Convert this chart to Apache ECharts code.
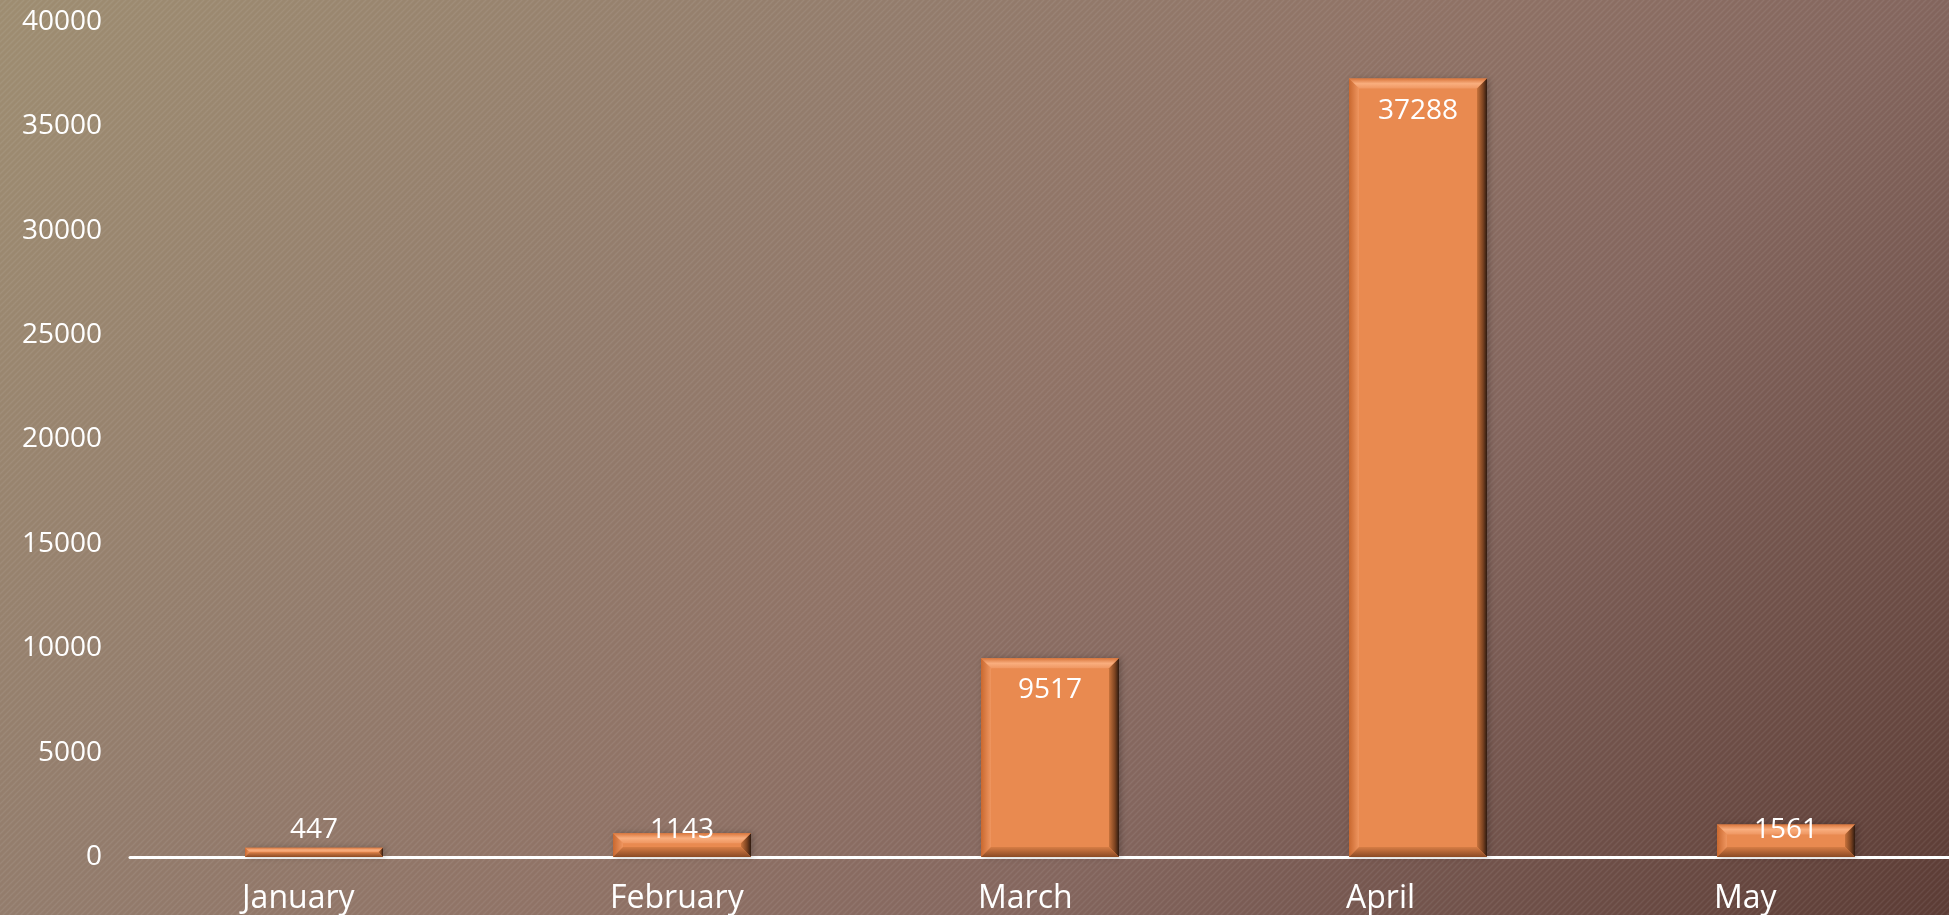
<!DOCTYPE html>
<html>
<head>
<meta charset="utf-8">
<script src="https://cdn.jsdelivr.net/npm/echarts@6/dist/echarts.min.js"></script>
<style>
  html, body { margin: 0; padding: 0; }
  #chart { width: 1949px; height: 915px; }
</style>
</head>
<body>
<div id="chart"></div>
<script>
// datos del grafico
const months = ['January', 'February', 'March', 'April', 'May'];
const values = [447, 1143, 9517, 37288, 1561];
const yTicks = [0, 5000, 10000, 15000, 20000, 25000, 30000, 35000, 40000];

const BAR_RATIO = 0.375;
const FONT = 'Open Sans';

// textura de rayas diagonales
function stripes() {
  const c = document.createElement('canvas');
  c.width = 6; c.height = 6;
  const ctx = c.getContext('2d');
  ctx.strokeStyle = 'rgba(255,255,255,0.07)';
  ctx.lineWidth = 1.5;
  ctx.beginPath();
  ctx.moveTo(0, 6); ctx.lineTo(6, 0);
  ctx.moveTo(-3, 3); ctx.lineTo(3, -3);
  ctx.moveTo(3, 9); ctx.lineTo(9, 3);
  ctx.stroke();
  return c;
}

const chart = echarts.init(document.getElementById('chart'));

// etiquetas: dentro arriba si la barra es alta, si no cerca de la base
const labelData = values.map(v => ({
  value: v,
  label: v >= 5000
    ? { position: 'insideTop', distance: 18 }
    : { position: 'insideBottom', distance: 13 }
}));

function bevel(params, api) {
  const top = api.coord([api.value(0), api.value(1)]);
  const base = api.coord([api.value(0), 0]);
  const w = api.size([1, 0])[0] * BAR_RATIO;
  const l = top[0] - w / 2, r = top[0] + w / 2, t = top[1], b = base[1];
  const d = Math.min(10, (b - t) / 2);
  return {
    type: 'group',
    children: [
      { type: 'polygon', shape: { points: [[l, t], [r, t], [r - d, t + d], [l + d, t + d]] },
        style: { fill: new echarts.graphic.LinearGradient(0, 0, 0, 1, [
          { offset: 0, color: '#d9763c' }, { offset: 0.5, color: '#f9ae7e' }, { offset: 1, color: '#ef9762' }]) } },
      { type: 'polygon', shape: { points: [[l, t], [l + d, t + d], [l + d, b - d], [l, b]] },
        style: { fill: new echarts.graphic.LinearGradient(0, 0, 1, 0, [
          { offset: 0, color: '#c9682f' }, { offset: 1, color: '#ef9660' }]) } },
      { type: 'polygon', shape: { points: [[r, t], [r, b], [r - d, b - d], [r - d, t + d]] },
        style: { fill: new echarts.graphic.LinearGradient(0, 0, 1, 0, [
          { offset: 0, color: '#c8733c' }, { offset: 0.6, color: '#7a4220' }, { offset: 1, color: '#2e1a10' }]) } },
      { type: 'polygon', shape: { points: [[l, b], [l + d, b - d], [r - d, b - d], [r, b]] },
        style: { fill: new echarts.graphic.LinearGradient(0, 0, 0, 1, [
          { offset: 0, color: '#d77d45' }, { offset: 1, color: '#8a4a24' }]) } }
    ]
  };
}

const option = {
  backgroundColor: new echarts.graphic.LinearGradient(0, 0, 1, 2.1, [
    { offset: 0, color: '#9e8d71' },
    { offset: 0.24, color: '#937c6c' },
    { offset: 0.37, color: '#907366' },
    { offset: 0.5, color: '#84665e' },
    { offset: 0.74, color: '#5c3c35' },
    { offset: 1, color: '#5c3c35' }
  ]),
  graphic: {
    elements: [{
      type: 'rect', z: -10, silent: true,
      shape: { x: 0, y: 0, width: 1949, height: 915 },
      style: { fill: { image: stripes(), repeat: 'repeat' } }
    }]
  },
  textStyle: { fontFamily: FONT },
  grid: { left: 130, width: 1840, top: 22, bottom: 58, outerBoundsMode: 'none' },
  xAxis: {
    type: 'category',
    data: months,
    axisLine: { lineStyle: { color: '#ffffff', width: 3 } },
    axisTick: { show: false },
    axisLabel: {
      color: '#ffffff', fontSize: 32, fontFamily: FONT, margin: 26,
      // texto alineado con el borde izquierdo de la barra
      formatter: v => '{m|' + v + '}',
      rich: { m: { width: 144, align: 'left', color: '#ffffff', fontSize: 32, fontFamily: FONT } }
    }
  },
  yAxis: {
    type: 'value',
    min: yTicks[0],
    max: yTicks[yTicks.length - 1],
    interval: yTicks[1] - yTicks[0],
    axisLine: { show: false },
    axisTick: { show: false },
    splitLine: { show: false },
    axisLabel: { color: '#ffffff', fontSize: 28, fontFamily: FONT, margin: 28, formatter: v => String(v) }
  },
  series: [
    {
      name: 'body',
      type: 'bar',
      z: 2,
      data: values,
      barWidth: (BAR_RATIO * 100) + '%',
      itemStyle: {
        color: '#e98a50',
        shadowColor: 'rgba(0,0,0,0.25)', shadowBlur: 6, shadowOffsetX: 2
      }
    },
    {
      name: 'bevel',
      type: 'custom',
      z: 3,
      silent: true,
      data: values.map((v, i) => [i, v]),
      renderItem: bevel
    },
    {
      name: 'labels',
      type: 'bar',
      z: 4,
      barGap: '-100%',
      barWidth: (BAR_RATIO * 100) + '%',
      data: labelData,
      itemStyle: { color: 'rgba(0,0,0,0)' },
      label: { show: true, color: '#ffffff', fontSize: 28, fontFamily: FONT }
    }
  ],
  animation: false
};

chart.setOption(option);
</script>
</body>
</html>
